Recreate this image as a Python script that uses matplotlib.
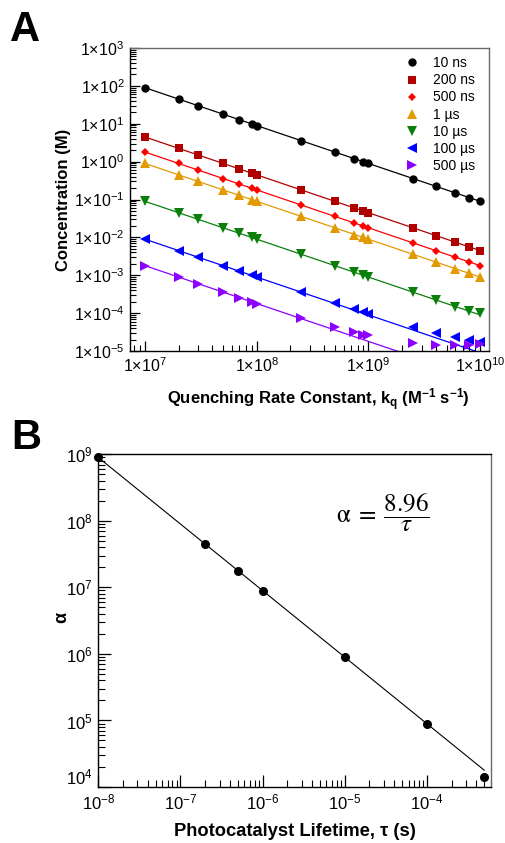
import numpy as np
import matplotlib
matplotlib.use("Agg")
import matplotlib.pyplot as plt
from matplotlib.lines import Line2D
from matplotlib.ticker import LogLocator, FuncFormatter, NullFormatter

# ---- data: panel A (concentration vs quenching rate constant) ----
KQ = [1e7, 2e7, 3e7, 5e7, 7e7, 9e7, 1e8, 2.5e8, 5e8, 7.5e8, 9e8, 1e9,
      2.5e9, 4e9, 6e9, 8e9, 1e10]

LABELS = ["10 ns", "200 ns", "500 ns", "1 µs", "10 µs", "100 µs", "500 µs"]
TAU_S = [1e-8, 2e-7, 5e-7, 1e-6, 1e-5, 1e-4, 5e-4]

conc_10ns = [89.6, 44.8, 29.9, 17.9, 12.8, 9.96, 8.96, 3.58, 1.79, 1.19, 0.996,
             0.896, 0.358, 0.224, 0.149, 0.112, 0.0896]
conc_200ns = [4.48, 2.24, 1.49, 0.896, 0.64, 0.498, 0.448, 0.179, 0.0896, 0.0597,
              0.0498, 0.0448, 0.0179, 0.0112, 0.00747, 0.0056, 0.00448]
conc_500ns = [1.79, 0.896, 0.597, 0.358, 0.256, 0.199, 0.179, 0.0717, 0.0358,
              0.0239, 0.0199, 0.0179, 0.00717, 0.00448, 0.00299, 0.00224, 0.00179]
conc_1us = [0.896, 0.448, 0.299, 0.179, 0.128, 0.0996, 0.0896, 0.0358, 0.0179,
            0.0119, 0.00996, 0.00896, 0.00358, 0.00224, 0.00149, 0.00112, 0.000896]
conc_10us = [0.0896, 0.0448, 0.0299, 0.0179, 0.0128, 0.00996, 0.00896, 0.00358,
             0.00179, 0.00119, 0.000996, 0.000896, 0.000358, 0.000224, 0.000149,
             0.000115, 0.0001]
conc_100us = [8.96e-3, 4.48e-3, 2.99e-3, 1.79e-3, 1.28e-3, 9.96e-4, 8.96e-4, 3.6e-4,
              1.8e-4, 1.3e-4, 1.05e-4, 9.5e-5, 4.2e-5, 3.0e-5, 2.3e-5, 2.0e-5, 1.7e-5]
conc_500us = [1.79e-3, 8.96e-4, 5.97e-4, 3.58e-4, 2.56e-4, 1.99e-4, 1.79e-4, 7.6e-5,
              4.3e-5, 3.1e-5, 2.7e-5, 2.6e-5, 1.6e-5, 1.45e-5, 1.4e-5, 1.45e-5, 1.5e-5]
CONC = [conc_10ns, conc_200ns, conc_500ns, conc_1us, conc_10us, conc_100us, conc_500us]

# ---- data: panel B (alpha vs lifetime) ----
ALPHA = [8.96e8, 4.48e7, 1.79e7, 8.96e6, 8.96e5, 8.96e4, 1.4e4]
FIT_CONST = 8.96  # alpha = 8.96 / tau

COLORS = ["black", "#b00000", "#ff0000", "#e39a00", "#0a800a", "#0000ff", "#8b00ff"]
MARKERS = ["o", "s", "D", "^", "v", "<", ">"]
MSIZES = [6.0, 5.5, 4.5, 6.5, 6.5, 6.5, 6.5]

plt.rcParams.update({
    "font.family": ["Liberation Sans", "DejaVu Sans"],
    "mathtext.fontset": "custom",
    "mathtext.rm": "Liberation Sans",
    "mathtext.it": "Liberation Sans:italic",
    "mathtext.bf": "Liberation Sans:bold",
    "xtick.direction": "in",
    "ytick.direction": "in",
})

W, H = 506, 843
fig = plt.figure(figsize=(W / 100, H / 100), dpi=100)


def box(l, r, t, b):
    return [l / W, 1 - b / H, (r - l) / W, (b - t) / H]


def sci_fmt(v, pos):
    n = int(round(np.log10(v)))
    return r"$\mathregular{1{\times}10^{%d}}$" % n


def pow_fmt(v, pos):
    n = int(round(np.log10(v)))
    return r"$\mathregular{10^{%d}}$" % n


def style_axes(ax, top_color, right_color, lsize):
    for side in ["left", "bottom"]:
        ax.spines[side].set_color("black")
        ax.spines[side].set_linewidth(1.0)
    ax.spines["top"].set_color(top_color)
    ax.spines["right"].set_color(right_color)
    ax.spines["top"].set_linewidth(1.0)
    ax.spines["right"].set_linewidth(1.0)
    ax.tick_params(which="major", length=7, width=0.9, labelsize=lsize, pad=4)
    ax.tick_params(which="minor", length=4, width=0.8)
    for axis in [ax.xaxis, ax.yaxis]:
        axis.set_major_locator(LogLocator(base=10, numticks=20))
        axis.set_minor_locator(LogLocator(base=10, subs=np.arange(2, 10), numticks=20))
        axis.set_minor_formatter(NullFormatter())


# ---------------- panel A ----------------
axA = fig.add_axes(box(130, 489, 48, 351))
kq = np.array(KQ)
for i in range(len(LABELS)):
    alpha_fit = FIT_CONST / TAU_S[i]
    axA.plot(kq, alpha_fit / kq, color=COLORS[i], linewidth=0.9, zorder=2)
    axA.plot(kq, CONC[i], linestyle="none", marker=MARKERS[i], color=COLORS[i],
             markersize=MSIZES[i], markeredgewidth=0, zorder=3)

axA.set_xscale("log")
axA.set_yscale("log")
axA.set_xlim(7.35e6, 1.2e10)
axA.set_ylim(1e-5, 1e3)
style_axes(axA, "#6a6a6a", "#6a6a6a", 11.5)
axA.xaxis.set_major_formatter(FuncFormatter(sci_fmt))
axA.yaxis.set_major_formatter(FuncFormatter(sci_fmt))
axA.set_xlabel(r"Quenching Rate Constant, k$_\mathbf{q}$ (M$^\mathbf{-1}$ s$^\mathbf{-1}$)",
               fontsize=12, fontweight="bold")
axA.set_ylabel("Concentration (M)", fontsize=12, fontweight="bold")
axA.xaxis.set_label_coords(0.526, -0.118)
axA.yaxis.set_label_coords(-0.165, 0.5)

handles = [
    Line2D([0], [0], linestyle="none", marker=MARKERS[i], color=COLORS[i],
           markersize=MSIZES[i], markeredgewidth=0, label=LABELS[i])
    for i in range(len(LABELS))
]
axA.legend(handles=handles, loc="upper right", frameon=False, fontsize=10,
           handlelength=1.0, handletextpad=1.0, labelspacing=0.22,
           borderaxespad=0.2, bbox_to_anchor=(0.985, 1.0))

# ---------------- panel B ----------------
axB = fig.add_axes(box(98.3, 490.7, 454.3, 787))
tau = np.array(TAU_S)
axB.plot(tau, FIT_CONST / tau, color="black", linewidth=0.8, zorder=2)
axB.plot(tau, ALPHA, linestyle="none", marker="o", color="black",
         markersize=6.5, markeredgewidth=0, zorder=3, clip_on=False)
axB.set_xscale("log")
axB.set_yscale("log")
axB.set_xlim(1e-8, 6e-4)
axB.set_ylim(1e4, 1e9)
style_axes(axB, "black", "#6a6a6a", 12)
axB.tick_params(which="major", length=9)
axB.tick_params(which="minor", length=5)
axB.xaxis.set_major_formatter(FuncFormatter(pow_fmt))
axB.yaxis.set_major_formatter(FuncFormatter(pow_fmt))
axB.set_xlabel("Photocatalyst Lifetime, τ (s)", fontsize=13.2, fontweight="bold")
axB.set_ylabel("α", fontsize=13, fontweight="bold", rotation=90)
axB.xaxis.set_label_coords(0.501, -0.108)
axB.yaxis.set_label_coords(-0.072, 0.511)

axB.text(0.606, 0.824, r"$\mathrm{\alpha}\;=\;\dfrac{8.96}{\tau}$", transform=axB.transAxes,
         ha="left", va="center", fontsize=18, math_fontfamily="stix")

# panel letters
fig.text(25 / W, 1 - 30 / H, "A", fontsize=30, fontweight="bold", ha="center", va="center")
fig.text(26 / W, 1 - 438 / H, "B", fontsize=30, fontweight="bold", ha="center", va="center")

# lift the lowest y label of panel B so it clears the 10^-8 label
fig.canvas.draw()
for tick in axB.yaxis.get_major_ticks():
    if np.isclose(tick.get_loc(), 1e4):
        tick.label1.set_va("bottom")

fig.savefig("out.png", dpi=100)
